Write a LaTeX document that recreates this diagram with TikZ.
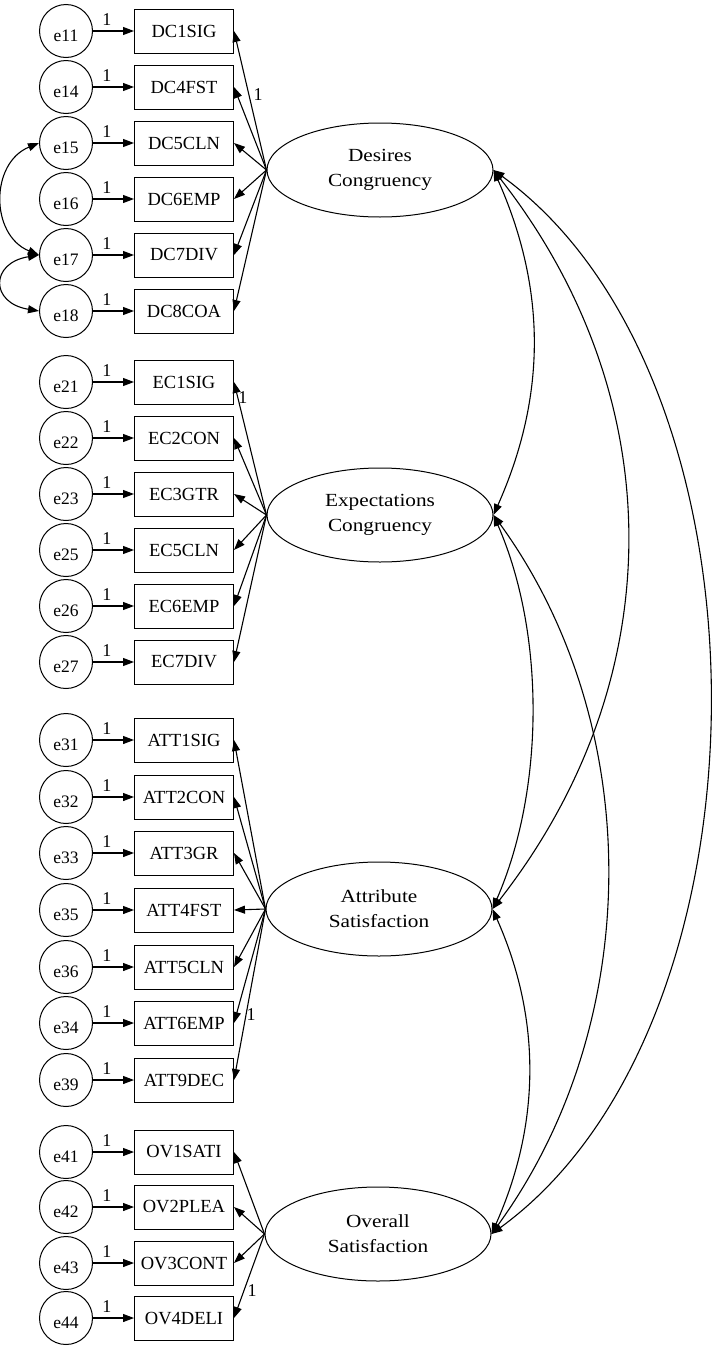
\documentclass[tikz,border=0pt]{standalone}
\usepackage{fontspec}
\setmainfont{Liberation Serif}
\newfontfamily\latentfont[FakeStretch=1.15]{Liberation Serif}
\usetikzlibrary{arrows.meta,shapes.geometric}

\begin{document}
\begin{tikzpicture}[x=1pt,y=-1pt,
  errc/.style={circle, draw, minimum size=53pt, inner sep=0pt, line width=1pt},
  errlbl/.style={yshift=-5pt, inner sep=0pt, font=\fontsize{17.5}{17.5}\selectfont},
  obs/.style={rectangle, draw, minimum width=99pt, minimum height=44pt, inner sep=0pt,
              font=\fontsize{18.5}{20}\selectfont, line width=1pt},
  lat/.style={ellipse, draw, minimum width=226pt, minimum height=94pt, inner sep=0pt,
              align=center, font=\latentfont\fontsize{18.5}{25}\selectfont, line width=1pt},
  regr/.style={-{Triangle[length=11pt,width=8pt]}, line width=1.1pt},
  cov/.style={{Triangle[length=11pt,width=8pt]}-{Triangle[length=11pt,width=8pt]}, line width=1.1pt},
  one/.style={font=\fontsize{18}{18}\selectfont, inner sep=1pt},
]
\useasboundingbox (0,0) rectangle (714,1347);

% latent factors
\node[lat] (dc)  at (380,170)  {Desires\\Congruency};
\node[lat] (ec)  at (380,515)  {Expectations\\Congruency};
\node[lat] (att) at (379,909)  {Attribute\\Satisfaction};
\node[lat] (ov)  at (378,1234) {Overall\\Satisfaction};

% error terms, indicators and their unit paths
\foreach \e/\v/\y in {e11/DC1SIG/31, e14/DC4FST/87, e15/DC5CLN/143, e16/DC6EMP/199,
                      e17/DC7DIV/255, e18/DC8COA/311,
                      e21/EC1SIG/382, e22/EC2CON/438, e23/EC3GTR/494, e25/EC5CLN/550,
                      e26/EC6EMP/606, e27/EC7DIV/662,
                      e31/ATT1SIG/740, e32/ATT2CON/797, e33/ATT3GR/853, e35/ATT4FST/910,
                      e36/ATT5CLN/967, e34/ATT6EMP/1023, e39/ATT9DEC/1080,
                      e41/OV1SATI/1152, e42/OV2PLEA/1207, e43/OV3CONT/1263, e44/OV4DELI/1318}{
  \node[errc, label={[errlbl]center:\e}] (\e) at (66,\y) {};
  \node[obs] (\v) at (184,\y) {\v};
  \draw[regr] (\e) -- node[one, above=4pt, pos=0.34] (w\e) {1} (\v);
}

% factor loadings
\foreach \v in {DC4FST,DC5CLN,DC6EMP,DC7DIV,DC8COA}
  \draw[regr] (dc.west) -- (\v.east);
\draw[regr] (dc.west) -- node[one, pos=0.54, right=3pt] (ldc) {1} (DC1SIG.east);

\foreach \v in {EC2CON,EC3GTR,EC5CLN,EC6EMP,EC7DIV}
  \draw[regr] (ec.west) -- (\v.east);
\draw[regr] (ec.west) -- node[one, pos=0.88, right=0pt, inner sep=0pt] (lec) {1} (EC1SIG.east);

\foreach \v in {ATT1SIG,ATT2CON,ATT3GR,ATT4FST,ATT5CLN,ATT6EMP}
  \draw[regr] (att.west) -- (\v.east);
\draw[regr] (att.west) -- node[one, pos=0.62, right=0pt, inner sep=0pt] (latt) {1} (ATT9DEC.east);

\foreach \v in {OV1SATI,OV2PLEA,OV3CONT}
  \draw[regr] (ov.west) -- (\v.east);
\draw[regr] (ov.west) -- node[one, pos=0.67, right=2pt] (lov) {1} (OV4DELI.east);

% covariances between factors
\draw[cov] (dc.east)  .. controls +(53,119)  and +(53,-119)  .. (ec.east);
\draw[cov] (dc.east)  .. controls +(179,229) and +(179,-229) .. (att.east);
\draw[cov] (dc.east)  .. controls +(289,210) and +(289,-210) .. (ov.east);
\draw[cov] (ec.east)  .. controls +(52,119)  and +(52,-119)  .. (att.east);
\draw[cov] (ec.east)  .. controls +(153,211) and +(153,-211) .. (ov.east);
\draw[cov] (att.east) .. controls +(49,110)  and +(49,-110)  .. (ov.east);

% correlated errors
\draw[cov] (e15.west) .. controls +(-49,20) and +(-49,-20) .. (e17.west);
\draw[cov] (e17.west) .. controls +(-49,8)  and +(-49,-8)  .. (e18.west);
\end{tikzpicture}
\end{document}
